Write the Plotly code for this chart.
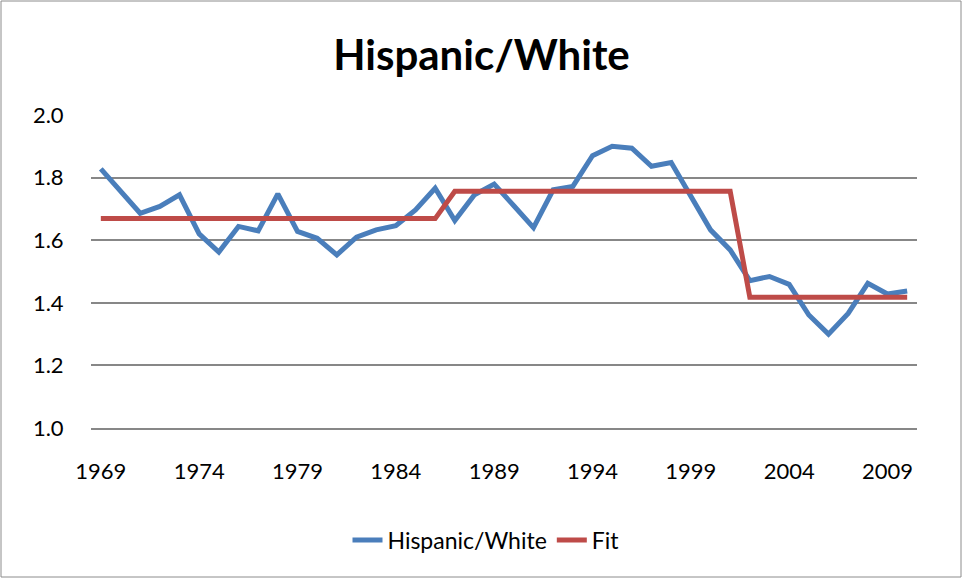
import plotly.graph_objects as go

years = list(range(1969, 2011))
hispanic_white = [1.828, 1.756, 1.686, 1.708, 1.745, 1.620, 1.562, 1.644, 1.630, 1.748,
                  1.628, 1.606, 1.553, 1.610, 1.633, 1.646, 1.697, 1.766, 1.663, 1.745,
                  1.779, 1.710, 1.640, 1.761, 1.772, 1.870, 1.900, 1.894, 1.836, 1.848,
                  1.740, 1.633, 1.569, 1.471, 1.484, 1.459, 1.361, 1.300, 1.366, 1.462,
                  1.428, 1.438]
fit = [1.669] * 18 + [1.756] * 15 + [1.418] * 9
x_ticks = [1969, 1974, 1979, 1984, 1989, 1994, 1999, 2004, 2009]
y_ticks = [1.0, 1.2, 1.4, 1.6, 1.8, 2.0]

FONT = "Lato"
GRID = "#878787"

fig = go.Figure()
fig.add_trace(go.Scatter(x=years, y=hispanic_white, mode="lines", name="Hispanic/White",
                         line=dict(color="#4A7EBB", width=5)))
fig.add_trace(go.Scatter(x=years, y=fit, mode="lines", name="Fit",
                         line=dict(color="#BE4B48", width=5)))

W, H = 963, 579
ml, mr, mt, mb = 91, 46, 115, 151
pw, ph = W - ml - mr, H - mt - mb

fig.update_layout(
    width=W, height=H,
    margin=dict(l=ml, r=mr, t=mt, b=mb),
    paper_bgcolor="white", plot_bgcolor="white",
    font=dict(family=FONT, size=22, color="black"),
    title=dict(text="<b>Hispanic/White</b>", x=0.5, xanchor="center",
               y=1 - 55 / H, yanchor="middle", font=dict(size=42, family=FONT)),
    showlegend=True,
    legend=dict(orientation="h", x=(486 - ml) / pw, xanchor="center", y=-(540 - 428) / ph,
                yanchor="middle", font=dict(size=23)),
    xaxis=dict(range=[1968.5, 2010.5], tickvals=x_ticks, ticktext=[str(t) for t in x_ticks],
               showgrid=False, zeroline=False, showline=True, linecolor=GRID, linewidth=1.5,
               ticks="outside", ticklen=23, tickcolor="rgba(0,0,0,0)",
               tickfont=dict(size=22)),
    yaxis=dict(range=[1.0, 2.0], tickvals=y_ticks, ticktext=["%.1f" % t for t in y_ticks],
               showgrid=True, gridcolor=GRID, gridwidth=1.5, zeroline=False,
               showline=False, ticks="outside", ticklen=22, tickcolor="rgba(0,0,0,0)",
               tickfont=dict(size=22)),
)

# outer chart border
fig.add_shape(type="rect", xref="paper", yref="paper",
              x0=-(ml - 1) / pw, x1=1 + (mr - 2) / pw,
              y0=-(mb - 2) / ph, y1=1 + (mt - 1) / ph,
              line=dict(color="#8C8C8C", width=1), fillcolor="rgba(0,0,0,0)", layer="below")

fig.write_html("out.html")
